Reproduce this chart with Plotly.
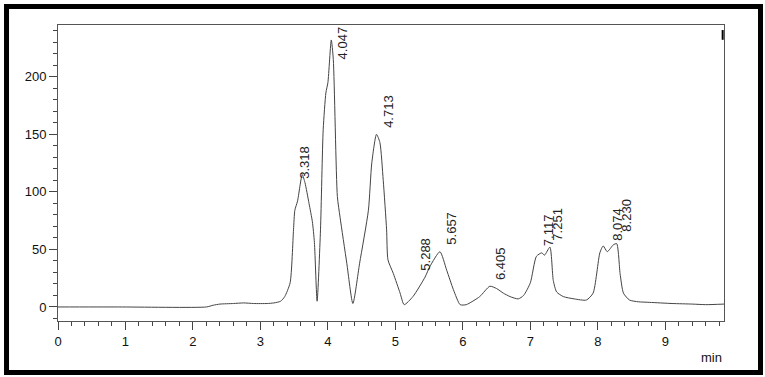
import plotly.graph_objects as go

# retention time (min) and detector signal
time_min = [0, 0.9, 2.2, 2.3, 2.4, 2.6, 2.75, 2.9, 3.1, 3.2, 3.3, 3.36, 3.44, 3.49, 3.51, 3.55,
            3.62, 3.66, 3.72, 3.77, 3.80, 3.84, 3.89, 3.93, 3.97, 4.0, 4.05, 4.08, 4.14, 4.18,
            4.28, 4.37, 4.47, 4.60, 4.65, 4.72, 4.77, 4.82, 4.87, 4.89, 4.97, 5.07, 5.13,
            5.26, 5.44, 5.51, 5.66, 5.76, 5.86, 5.96, 6.05, 6.25, 6.40, 6.5, 6.6, 6.7, 6.82,
            6.9, 7.0, 7.09, 7.17, 7.21, 7.29, 7.34, 7.39, 7.49, 7.65, 7.83, 7.93, 8.03,
            8.08, 8.14, 8.23, 8.28, 8.33, 8.38, 8.47, 8.6, 8.77, 9.1, 9.4, 9.6, 9.87]
signal = [0, 0, 0, 1.5, 2.5, 3, 3.5, 3, 3, 3.5, 5, 9, 21, 67, 84, 92,
          115, 108, 90, 74, 56, 5, 67, 154, 186, 195, 232, 215, 96, 78,
          38, 3, 38, 84, 125, 150, 143, 110, 67, 41, 29, 12, 2,
          9, 26, 35, 48, 32, 15, 2, 2, 9, 18, 16, 12, 9, 7,
          10, 21, 44, 47, 45, 52, 23, 13, 9, 7, 6, 12, 47,
          53, 48, 54, 55, 29, 12, 6, 4.5, 4, 3, 2.5, 2, 2.5]

peak_labels = ["3.318", "4.047", "4.713", "5.288", "5.657", "6.405",
               "7.117", "7.251", "8.074", "8.230"]
label_x = [3.66, 4.21, 4.90, 5.45, 5.84, 6.55, 7.26, 7.39, 8.28, 8.43]
label_y = [110, 213, 154, 30, 52, 22, 51, 56, 56, 64]

x_ticks = list(range(0, 10))
y_ticks = [0, 50, 100, 150, 200]

fig = go.Figure()
fig.add_trace(go.Scatter(x=time_min, y=signal, mode="lines",
                         line=dict(color="#444444", width=1, shape="spline", smoothing=0.6),
                         hoverinfo="skip", showlegend=False))

for txt, lx, ly in zip(peak_labels, label_x, label_y):
    fig.add_annotation(x=lx, y=ly, text=txt, textangle=-90, showarrow=False,
                       xanchor="center", yanchor="bottom",
                       font=dict(family="Liberation Sans, Arial", size=13, color="#222"))

fig.add_annotation(xref="paper", yref="paper", x=1.0, y=-0.09, text="min",
                   showarrow=False, xanchor="right", yanchor="top",
                   font=dict(family="Liberation Sans, Arial", size=13, color="#111"))

# outer black frame
fig.add_shape(type="rect", xref="paper", yref="paper",
              x0=-0.0773, x1=1.0548, y0=-0.174, y1=1.0625,
              line=dict(color="black", width=5))
fig.add_shape(type="line", xref="paper", yref="paper",
              x0=0.998, x1=0.998, y0=0.95, y1=0.983,
              line=dict(color="black", width=2))

axis_font = dict(family="Liberation Sans, Arial", size=13, color="#111")
fig.update_layout(
    width=765, height=377,
    margin=dict(l=58, r=41, t=25, b=56),
    paper_bgcolor="white", plot_bgcolor="white",
    xaxis=dict(range=[0, 9.87], tickvals=x_ticks, ticks="outside", ticklen=8,
               tickcolor="#444", showline=True, linecolor="#555", linewidth=1,
               mirror=True, showgrid=False, zeroline=False, tickfont=axis_font,
               minor=dict(dtick=0.2, tick0=0, ticks="outside", ticklen=4, tickcolor="#444")),
    yaxis=dict(range=[-12.2, 245], tickvals=y_ticks, ticks="outside", ticklen=8,
               tickcolor="#444", showline=True, linecolor="#555", linewidth=1,
               mirror=True, showgrid=False, zeroline=False, tickfont=axis_font,
               minor=dict(dtick=10, tick0=0, ticks="outside", ticklen=4, tickcolor="#444")),
)

fig.write_html("out.html")
